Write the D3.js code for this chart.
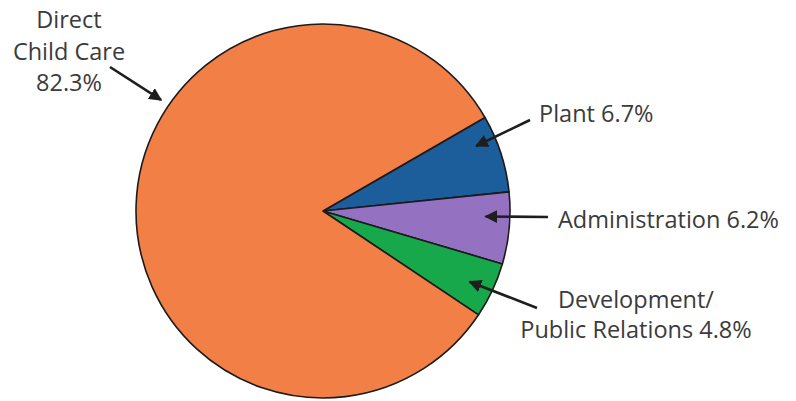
<!DOCTYPE html>
<html>
<head>
<meta charset="utf-8">
<script src="https://cdn.jsdelivr.net/npm/d3@7"></script>
<style>
	body { margin: 0; background: #fff; }
	text { font-family: "Open Sans", sans-serif; fill: #3b3b3b; }
</style>
</head>
<body>
<script>
'use strict';

// Budget shares, clockwise from the Plant slice
const categories = ["Plant", "Administration", "Development/Public Relations", "Direct Child Care"];
const shares = [6.7, 6.2, 4.8, 82.3];
const labelLines = [
	["Plant 6.7%"],
	["Administration 6.2%"],
	["Development/", "Public Relations 4.8%"],
	["Direct", "Child Care", "82.3%"]
];

const params = {
	width: 796,
	height: 401,
	cx: 323,
	cy: 211,
	radius: 187,
	startDeg: 60,
	fontSize: 23.5
};

const palette = ["#1c5e9b", "#9571c2", "#17a84c", "#f27f45"];

// where each label sits and where its arrow starts/points
const annotations = [
	{ x: 539, y: 122, anchor: "start", lh: 0, tail: [530, 120], frac: 0.29, r: 0.89 },
	{ x: 558, y: 228, anchor: "start", lh: 0, tail: [548, 217], frac: 0.35, r: 0.87 },
	{ x: 636, y: 308, anchor: "middle", lh: 30, tail: [537, 308], frac: 0.54, r: 0.87 },
	{ x: 69, y: 28, anchor: "middle", lh: 31.5, tail: [110, 67], frac: 0.61, r: 1.05 }
];

const svg = d3.select("body")
	.append("svg")
	.attr("width", params.width)
	.attr("height", params.height);

svg.append("defs").append("marker")
	.attr("id", "arrow")
	.attr("viewBox", "0 0 10 10")
	.attr("refX", 9)
	.attr("refY", 5)
	.attr("markerWidth", 5)
	.attr("markerHeight", 5)
	.attr("markerUnits", "strokeWidth")
	.attr("orient", "auto")
	.append("path")
	.attr("d", "M0,0 L10,5 L0,10 Z")
	.attr("fill", "#1e1e1e");

const pie = d3.pie()
	.sort(null)
	.value(d => d)
	.startAngle(params.startDeg * Math.PI / 180)
	.endAngle(params.startDeg * Math.PI / 180 + 2 * Math.PI);

const arcs = pie(shares);

const arc = d3.arc()
	.innerRadius(0)
	.outerRadius(params.radius);

const plot = svg.append("g")
	.attr("transform", `translate(${params.cx},${params.cy})`);

plot.selectAll("path.slice")
	.data(arcs)
	.join("path")
	.attr("class", "slice")
	.attr("d", arc)
	.attr("fill", (d, i) => palette[i])
	.attr("stroke", "#1b1b1b")
	.attr("stroke-width", 1.6)
	.attr("stroke-linejoin", "round");

// arrows from the labels to the slices
const tipOf = (d, a) => {
	const ang = d.startAngle + a.frac * (d.endAngle - d.startAngle);
	const r = a.r * params.radius;
	return [params.cx + r * Math.sin(ang), params.cy - r * Math.cos(ang)];
};

svg.selectAll("line.arrow")
	.data(arcs)
	.join("line")
	.attr("class", "arrow")
	.attr("x1", (d, i) => annotations[i].tail[0])
	.attr("y1", (d, i) => annotations[i].tail[1])
	.attr("x2", (d, i) => tipOf(d, annotations[i])[0])
	.attr("y2", (d, i) => tipOf(d, annotations[i])[1])
	.attr("stroke", "#1e1e1e")
	.attr("stroke-width", 2.6)
	.attr("marker-end", "url(#arrow)");

const labels = svg.selectAll("text.label")
	.data(labelLines)
	.join("text")
	.attr("class", "label")
	.attr("font-size", params.fontSize)
	.attr("text-anchor", (d, i) => annotations[i].anchor);

labels.selectAll("tspan")
	.data((d, i) => d.map(t => ({ t, a: annotations[i] })))
	.join("tspan")
	.attr("x", d => d.a.x)
	.attr("y", (d, j) => d.a.y + j * d.a.lh)
	.text(d => d.t);
</script>
</body>
</html>
